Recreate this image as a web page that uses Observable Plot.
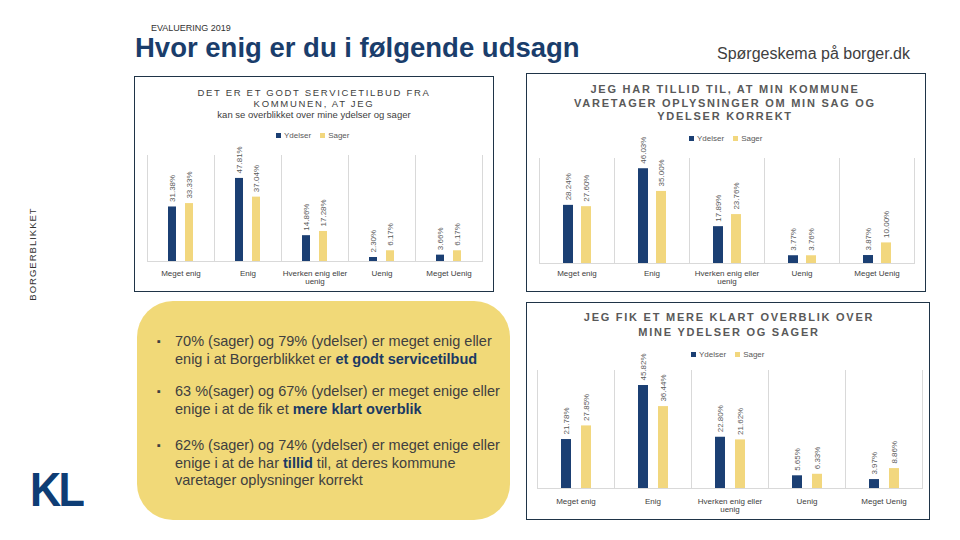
<!DOCTYPE html>
<html>
<head>
<meta charset="utf-8">
<script src="https://cdn.jsdelivr.net/npm/d3@7"></script>
<script src="https://cdn.jsdelivr.net/npm/@observablehq/plot@0.6"></script>
<style>
  html, body { margin: 0; padding: 0; background: #fff; }
  body { width: 960px; height: 540px; position: relative; overflow: hidden; font-family: "Liberation Sans", Arial, sans-serif; color: #404040; }
  .abs { position: absolute; }
  .box { position: absolute; border: 1.5px solid #1f3447; box-sizing: border-box; }
  .ctitle { position: absolute; text-align: center; white-space: nowrap; }
  .legend { position: absolute; font-size: 8px; color: #595959; white-space: nowrap; display: flex; align-items: center; }
  .legend .sw { display: inline-block; width: 5px; height: 5px; margin-right: 3px; }
  .legend .item { display: inline-flex; align-items: center; margin-right: 9px; }
  .bullet { position: absolute; left: 157px; font-size: 14.5px; line-height: 17.5px; color: #404040; white-space: nowrap; }
  .bullet .dot { position: absolute; left: 0; top: 0; font-size: 11px; }
  .bullet .txt { position: absolute; left: 18px; top: 0; }
  .bullet b { color: #1b3a63; }
  .chart { position: absolute; }
</style>
</head>
<body>
<div class="abs" style="left:151px;top:23px;font-size:9px;line-height:11px;color:#333;">EVALUERING 2019</div>
<div class="abs" style="left:135px;top:33px;font-size:27.5px;line-height:30px;font-weight:bold;color:#1a3d6b;white-space:nowrap;">Hvor enig er du i følgende udsagn</div>
<div class="abs" style="left:717px;top:44px;font-size:16px;line-height:19px;color:#404040;white-space:nowrap;">Spørgeskema på borger.dk</div>
<div class="abs" style="left:32px;top:254px;width:0;height:0;">
  <div style="position:absolute;transform:translate(-50%,-50%) rotate(-90deg);font-size:9.5px;letter-spacing:1px;color:#333;white-space:nowrap;">BORGERBLIKKET</div>
</div>
<div class="abs" style="left:30px;top:465px;font-size:48px;line-height:50px;font-weight:bold;color:#0e3d75;letter-spacing:-3px;transform:scaleX(0.9);transform-origin:left;">KL</div>

<div class="box" style="left:134px;top:76px;width:360px;height:216px;"></div>
<div class="box" style="left:526px;top:73px;width:400px;height:219px;"></div>
<div class="box" style="left:526px;top:302px;width:404px;height:218px;"></div>

<div class="abs" style="left:137px;top:301px;width:373px;height:219px;border-radius:36px;background:#F1D978;"></div>

<div class="bullet" style="top:333px;"><span class="dot">▪</span><span class="txt">70% (sager) og 79% (ydelser) er meget enig eller<br>enig i at Borgerblikket er <b>et godt servicetilbud</b></span></div>
<div class="bullet" style="top:383px;"><span class="dot">▪</span><span class="txt">63 %(sager) og 67% (ydelser) er meget enige eller<br>enige i at de fik et <b>mere klart overblik</b></span></div>
<div class="bullet" style="top:437px;"><span class="dot">▪</span><span class="txt">62% (sager) og 74% (ydelser) er meget enige eller<br>enige i at de har <b>tillid</b> til, at deres kommune<br>varetager oplysninger korrekt</span></div>

<div class="ctitle" style="left:314px;top:87px;transform:translateX(-50%);font-size:9.5px;line-height:11px;color:#404040;">
  <div style="letter-spacing:1.7px;">DET ER ET GODT SERVICETILBUD FRA</div>
  <div style="letter-spacing:1.7px;">KOMMUNEN, AT JEG</div>
  <div>kan se overblikket over mine ydelser og sager</div>
</div>
<div class="ctitle" style="left:725px;top:83px;transform:translateX(-50%);font-size:11px;line-height:13.5px;font-weight:bold;letter-spacing:1.75px;color:#595959;">
  <div>JEG HAR TILLID TIL, AT MIN KOMMUNE</div>
  <div>VARETAGER OPLYSNINGER OM MIN SAG OG</div>
  <div>YDELSER KORREKT</div>
</div>
<div class="ctitle" style="left:729px;top:310px;transform:translateX(-50%);font-size:11px;line-height:15px;font-weight:bold;letter-spacing:1.75px;color:#595959;">
  <div>JEG FIK ET MERE KLART OVERBLIK OVER</div>
  <div>MINE YDELSER OG SAGER</div>
</div>

<div id="leg1" class="legend" style="left:276px;top:131px;"></div>
<div id="leg2" class="legend" style="left:689px;top:134px;"></div>
<div id="leg3" class="legend" style="left:691px;top:350px;"></div>

<div id="c1" class="chart" style="left:140px;top:128px;"></div>
<div id="c2" class="chart" style="left:530px;top:123px;"></div>
<div id="c3" class="chart" style="left:530px;top:338px;"></div>

<script>
// ---- data ----
const categories = ["Meget enig", "Enig", "Hverken enig eller uenig", "Uenig", "Meget Uenig"];
const tickLabels = ["Meget enig", "Enig", "Hverken enig eller\nuenig", "Uenig", "Meget Uenig"];
const series = ["Ydelser", "Sager"];

// DET ER ET GODT SERVICETILBUD ... kan se overblikket
const serviceYdelser = [31.38, 47.81, 14.86, 2.30, 3.66];
const serviceSager   = [33.33, 37.04, 17.28, 6.17, 6.17];

// JEG HAR TILLID TIL ...
const tillidYdelser = [28.24, 46.03, 17.89, 3.77, 3.87];
const tillidSager   = [27.60, 35.00, 23.76, 3.76, 10.00];

// JEG FIK ET MERE KLART OVERBLIK ...
const overblikYdelser = [21.78, 45.82, 22.80, 5.65, 3.97];
const overblikSager   = [27.85, 36.44, 21.62, 6.33, 8.86];

const colors = ["#1b3f73", "#F2D77E"];

function rows(yd, sa) {
  return categories.flatMap((c, i) => [
    {cat: c, series: "Ydelser", value: yd[i]},
    {cat: c, series: "Sager", value: sa[i]}
  ]);
}

function legend(id) {
  const el = document.getElementById(id);
  series.forEach((s, i) => {
    const it = document.createElement("span");
    it.className = "item";
    it.innerHTML = `<span class="sw" style="background:${colors[i]}"></span>${s}`;
    el.appendChild(it);
  });
}

function chart(data, o) {
  return Plot.plot({
    width: o.width, height: o.height,
    marginTop: o.mt, marginBottom: o.mb, marginLeft: o.ml, marginRight: o.mr,
    style: {fontFamily: '"Liberation Sans", Arial, sans-serif', fontSize: "8px", color: "#404040", background: "transparent", overflow: "visible"},
    fx: {domain: categories, padding: 0, label: null, axis: "bottom", tickSize: 0, tickPadding: o.tp,
         tickFormat: c => tickLabels[categories.indexOf(c)]},
    x: {domain: series, paddingInner: o.pi, paddingOuter: o.po, axis: null},
    y: {domain: [0, o.ymax], axis: null},
    color: {domain: series, range: colors},
    marks: [
      Plot.frame({anchor: "left", stroke: "#d9d9d9"}),
      Plot.frame({anchor: "right", stroke: "#d9d9d9"}),
      Plot.ruleY([0], {stroke: "#d9d9d9"}),
      Plot.barY(data, {fx: "cat", x: "series", y: "value", fill: "series"}),
      Plot.text(data, {fx: "cat", x: "series", y: "value", text: d => d.value.toFixed(2) + "%",
        rotate: -90, textAnchor: "start", dy: -5, fill: "#595959", fontSize: 8})
    ]
  });
}

legend("leg1"); legend("leg2"); legend("leg3");

document.getElementById("c1").appendChild(chart(rows(serviceYdelser, serviceSager),
  {width: 350, height: 162, mt: 27, mb: 29, ml: 7, mr: 8, pi: 0.53, po: 1.235, ymax: 61, tp: 9}));
document.getElementById("c2").appendChild(chart(rows(tillidYdelser, tillidSager),
  {width: 395, height: 167, mt: 35, mb: 27, ml: 7, mr: 9, pi: 0.47, po: 1.23, ymax: 51, tp: 7}));
document.getElementById("c3").appendChild(chart(rows(overblikYdelser, overblikSager),
  {width: 400, height: 180, mt: 32, mb: 30, ml: 7, mr: 8, pi: 0.52, po: 1.185, ymax: 52.5, tp: 10}));
</script>
</body>
</html>
